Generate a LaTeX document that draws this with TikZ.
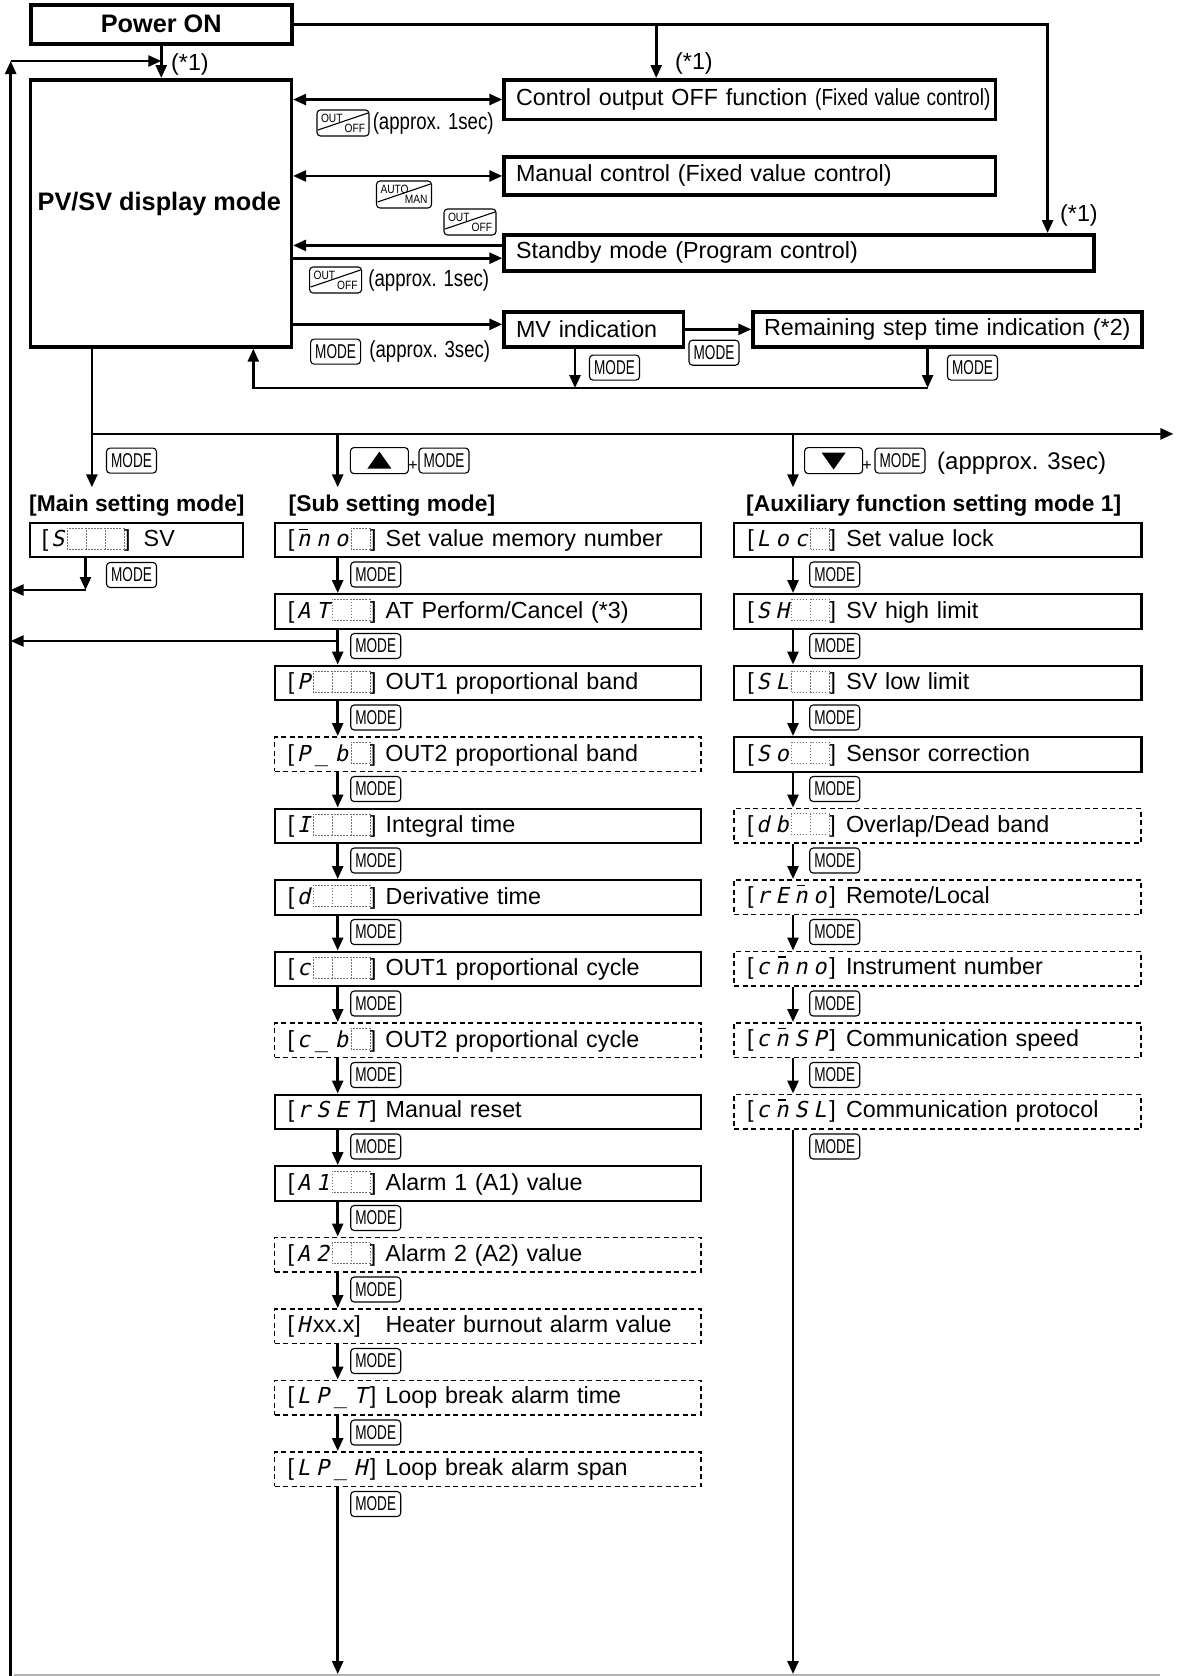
\documentclass[tikz,border=0pt]{standalone}
\usepackage{fontspec}
\usepackage{graphicx}
\setmainfont{Liberation Sans}
\newfontfamily\segfont{DejaVu Sans Mono}[FakeSlant=0.22]
\usetikzlibrary{arrows.meta,calc}
\newcommand\tx{\fontsize{23.3}{28}\selectfont}
\newcommand\bft{\fontsize{25.3}{30}\selectfont\bfseries}
\newcommand\hdf{\fontsize{22.8}{28}\selectfont\bfseries}
\newcommand\MODE{\scalebox{0.68}[1]{\fontsize{20}{20}\selectfont MODE}}
\newcommand\kf{\fontsize{12}{11}\selectfont}
\newcommand\twokey[3]{\parbox{#1}{\kf\makebox[#1][l]{\scalebox{0.85}[1]{#2}}\\[-1pt]\makebox[#1][r]{\scalebox{0.85}[1]{#3}}}}
\newcommand\sg[1]{\makebox[19pt]{\segfont\fontsize{22}{22}\selectfont #1}}
\newcommand\nbar{\ooalign{n\cr\hidewidth\rule[0.78em]{0.4em}{0.06em}\hidewidth\cr}}
\newcommand\bl{\raisebox{-2pt}{{\color{black!55}\setlength{\unitlength}{1pt}\linethickness{0.8pt}\begin{picture}(19,21)\put(0,0){\dashbox{1.5}(19,21){}}\end{picture}}}}
\newcommand\srow[4]{\node[#2,text width=400.4pt] (s#1) at (273.6,{521.5+71.5*#1}) {\mbox{\makebox[98pt][l]{#3}#4}};}
\newcommand\arow[4]{\node[#2,text width=381.2pt] (a#1) at (733.1,{521.5+71.5*#1}) {\mbox{\makebox[99pt][l]{#3}#4}};}
\begin{document}
\begin{tikzpicture}[x=1pt,y=-1pt,line join=miter,font=\tx,
 arr/.style={line width=2.6pt,-{Triangle[length=13pt,width=11pt]}},
 darr/.style={line width=2.6pt,{Triangle[length=13pt,width=11pt]}-{Triangle[length=13pt,width=11pt]}},
 tbox/.style={draw,line width=3.5pt,inner xsep=12pt,inner ysep=0pt,anchor=north west,align=left},
 sbox/.style={draw,line width=2.3pt,inner xsep=13pt,inner ysep=0pt,anchor=north west,align=left,minimum height=34.5pt},
 dbox/.style={sbox,line width=1.8pt,dash pattern=on 5pt off 3.5pt},
 keybox/.style={draw,line width=1.1pt,rounded corners=3.5pt,inner sep=0pt},
 modekey/.style={keybox,minimum width=50pt,minimum height=25pt},
 slkey/.style={keybox,minimum height=26pt,path picture={\draw[line width=1.1pt,sharp corners] ($(path picture bounding box.south west)+(1,-6)$) -- ($(path picture bounding box.north east)+(-1,3)$);}},
 upkey/.style={keybox,minimum width=58pt,minimum height=26pt,path picture={\fill[sharp corners] ($(path picture bounding box.center)+(-12,8)$) -- ($(path picture bounding box.center)+(12,8)$) -- ($(path picture bounding box.center)+(0,-9)$) -- cycle;}},
 downkey/.style={keybox,minimum width=58pt,minimum height=26pt,path picture={\fill[sharp corners] ($(path picture bounding box.center)+(-12,-8)$) -- ($(path picture bounding box.center)+(12,-8)$) -- ($(path picture bounding box.center)+(0,9)$) -- cycle;}},
 hdr/.style={anchor=west,font=\hdf,inner sep=0pt},
 lbl/.style={anchor=west,inner sep=0pt}]
\useasboundingbox (0,0) rectangle (1182,1676);

% top boxes
\node[draw,line width=3.5pt,anchor=north west,minimum width=261pt,minimum height=39pt,font=\bft,inner sep=0pt] (pwr) at (29,3) {Power ON};
\node[draw,line width=3.5pt,anchor=north west,minimum width=260.7pt,minimum height=267.2pt,inner sep=0pt] (pv) at (28.9,78) {};
\node[font=\bft,inner sep=0pt] (pvt) at (159.3,204) {PV/SV display mode};
\node[tbox,text width=467.6pt,minimum height=39.6pt] (ctl) at (502.3,78) {\mbox{Control output OFF function \scalebox{0.82}[1]{(Fixed value control)}}};
\node[tbox,text width=467.6pt,minimum height=38.4pt] (man) at (502.3,155) {\mbox{Manual control (Fixed value control)}};
\node[tbox,text width=565.9pt,minimum height=36.3pt] (stb) at (502.3,233) {\mbox{Standby mode (Program control)}};
\node[tbox,text width=155.5pt,minimum height=35.2pt] (mv) at (502.3,310) {\mbox{MV indication}};
\node[tbox,inner xsep=11pt,text width=367pt,minimum height=35.2pt] (rem) at (751.3,310) {\mbox{Remaining step time indication (*2)}};

% labels (*1)
\node[lbl] (n1) at (171,64) {(*1)};
\node[lbl] (n2) at (675,63) {(*1)};
\node[lbl] (n3) at (1060,215) {(*1)};

% keys top
\node[slkey,minimum width=52pt] (k1) at (343,123) {\twokey{44pt}{OUT}{OFF}};
\node[lbl] (k1t) at ($(k1.east)+(3,0)$) {\scalebox{0.8}[1]{(approx. 1sec)}};
\node[slkey,minimum width=55pt,minimum height=27pt] (k2) at (404,194.5) {\twokey{47pt}{AUTO}{MAN}};
\node[slkey,minimum width=52pt] (k3) at (470,222) {\twokey{44pt}{OUT}{OFF}};
\node[slkey,minimum width=52pt] (k4) at (335.6,280) {\twokey{44pt}{OUT}{OFF}};
\node[lbl] (k4t) at ($(k4.east)+(6,0)$) {\scalebox{0.8}[1]{(approx. 1sec)}};
\node[modekey] (k5) at (335.6,351.6) {\MODE};
\node[lbl] (k5t) at ($(k5.east)+(8,0)$) {\scalebox{0.8}[1]{(approx. 3sec)}};
\node[modekey] (k6) at (714,352.7) {\MODE};
\node[modekey] (k7) at (614.5,367.6) {\MODE};
\node[modekey] (k8) at (972.5,367.6) {\MODE};
\node[modekey] (k9) at (131.5,460.6) {\MODE};
\node[upkey] (k10) at (379.4,460.6) {};
\node[inner sep=0pt,font=\fontsize{16}{16}\selectfont] (pl1) at (413,466) {+};
\node[modekey] (k11) at (444,460.6) {\MODE};
\node[downkey] (k12) at (833.6,460.6) {};
\node[inner sep=0pt,font=\fontsize{16}{16}\selectfont] (pl2) at (867,466) {+};
\node[modekey] (k13) at (900,460.6) {\MODE};
\node[lbl,font=\fontsize{24}{28}\selectfont] (k13t) at (937,463) {(appprox. 3sec)};

% headers
\node[hdr] (hm) at (29,505.5) {[Main setting mode]};
\node[hdr] (hs) at (288.5,505.5) {[Sub setting mode]};
\node[hdr] (ha) at (746,505.5) {[Auxiliary function setting mode 1]};

% main
\node[sbox,inner xsep=11.7pt,text width=189.2pt] (m0) at (28.9,521.5) {\mbox{\makebox[102pt][l]{[\sg{S}\bl\bl\bl]}SV}};
\node[modekey] (mk0) at (131.5,575) {\MODE};

% sub rows
\srow{0}{sbox}{[\sg{\nbar}\sg{n}\sg{o}\bl]}{Set value memory number}
\srow{1}{sbox}{[\sg{A}\sg{T}\bl\bl]}{AT Perform/Cancel (*3)}
\srow{2}{sbox}{[\sg{P}\bl\bl\bl]}{OUT1 proportional band}
\srow{3}{dbox}{[\sg{P}\sg{\_}\sg{b}\bl]}{OUT2 proportional band}
\srow{4}{sbox}{[\sg{I}\bl\bl\bl]}{Integral time}
\srow{5}{sbox}{[\sg{d}\bl\bl\bl]}{Derivative time}
\srow{6}{sbox}{[\sg{c}\bl\bl\bl]}{OUT1 proportional cycle}
\srow{7}{dbox}{[\sg{c}\sg{\_}\sg{b}\bl]}{OUT2 proportional cycle}
\srow{8}{sbox}{[\sg{r}\sg{S}\sg{E}\sg{T}]}{Manual reset}
\srow{9}{sbox}{[\sg{A}\sg{1}\bl\bl]}{Alarm 1 (A1) value}
\srow{10}{dbox}{[\sg{A}\sg{2}\bl\bl]}{Alarm 2 (A2) value}
\srow{11}{dbox}{[\sg{H}xx.x]}{Heater burnout alarm value}
\srow{12}{dbox}{[\sg{L}\sg{P}\sg{\_}\sg{T}]}{Loop break alarm time}
\srow{13}{dbox}{[\sg{L}\sg{P}\sg{\_}\sg{H}]}{Loop break alarm span}

% aux rows
\arow{0}{sbox}{[\sg{L}\sg{o}\sg{c}\bl]}{Set value lock}
\arow{1}{sbox}{[\sg{S}\sg{H}\bl\bl]}{SV high limit}
\arow{2}{sbox}{[\sg{S}\sg{L}\bl\bl]}{SV low limit}
\arow{3}{sbox}{[\sg{S}\sg{o}\bl\bl]}{Sensor correction}
\arow{4}{dbox}{[\sg{d}\sg{b}\bl\bl]}{Overlap/Dead band}
\arow{5}{dbox}{[\sg{r}\sg{E}\sg{\nbar}\sg{o}]}{Remote/Local}
\arow{6}{dbox}{[\sg{c}\sg{\nbar}\sg{n}\sg{o}]}{Instrument number}
\arow{7}{dbox}{[\sg{c}\sg{\nbar}\sg{S}\sg{P}]}{Communication speed}
\arow{8}{dbox}{[\sg{c}\sg{\nbar}\sg{S}\sg{L}]}{Communication protocol}

% coordinates
\coordinate (botL) at (10.7,1676);
\coordinate (topL) at (10.7,61);
\coordinate (c1) at ($(ctl.north west)+(153.9,0)$);
\coordinate (c2) at ($(stb.north east)+(-48.1,0)$);
\coordinate (sb1) at ($(stb.west)+(0,-7.5)$);
\coordinate (sb2) at ($(stb.west)+(0,5.3)$);
\coordinate (mvin) at ($(mv.west)+(0,-5)$);
\coordinate (mvx) at (575,388);
\coordinate (remx) at (927.6,388);
\coordinate (pvx) at (253.3,388);
\coordinate (busL) at (91.9,433.9);
\coordinate (busR) at (1173.4,433.9);
\coordinate (dm) at (91.9,487.3);
\coordinate (ds) at (337.7,487.3);
\coordinate (da) at (793,487.3);
\coordinate (mret) at (85.5,590);
\coordinate (atr) at (337.7,641);
\coordinate (sx) at (337.7,0);
\coordinate (ax) at (793,0);
\coordinate (sbot) at (337.7,1674);
\coordinate (abot) at (793,1674);
\coordinate (gl) at (14,1675);
\coordinate (gr) at (1160,1675);

% connectors top
\draw[arr] (pwr.south) -- (pwr.south |- pv.north);
\draw[arr] (botL) -- (topL);
\draw[arr] (topL) -- (topL -| pwr.south);
\draw[arr] (pwr.east) -| (c2);
\draw[arr] (c1 |- pwr.east) -- (c1);
\draw[darr] (ctl.west -| pv.east) -- (ctl.west);
\draw[darr] (man.west -| pv.east) -- (man.west);
\draw[arr] (sb1) -- (sb1 -| pv.east);
\draw[arr] (sb2 -| pv.east) -- (sb2);
\draw[arr] (mvin -| pv.east) -- (mvin);
\draw[arr] (mv.east) -- (rem.west);
\draw[arr] (mv.south -| mvx) -- (mvx);
\draw[arr] (rem.south -| remx) -- (remx);
\draw[arr] (remx) -- (pvx) -- (pv.south -| pvx);

% bus
\draw[arr] (pv.south -| dm) -- (dm);
\draw[arr] (busL) -- (busR);
\draw[arr] (ds |- busL) -- (ds);
\draw[arr] (da |- busL) -- (da);

% main return
\draw[arr] (m0.south -| mret) -- (mret);
\draw[arr] (mret) -- (mret -| botL);
\draw[arr] (atr) -- (atr -| botL);

% sub chain
\foreach \i in {0,...,12}{\pgfmathtruncatemacro\j{\i+1}
  \draw[arr] (s\i.south -| sx) -- (s\j.north -| sx);
  \node[modekey] (sk\i) at (375.7,{574.5+71.5*\i}) {\MODE};}
\node[modekey] (sk13) at (375.7,1504) {\MODE};
\draw[arr] (s13.south -| sx) -- (sbot);

% aux chain
\foreach \i in {0,...,7}{\pgfmathtruncatemacro\j{\i+1}
  \draw[arr] (a\i.south -| ax) -- (a\j.north -| ax);
  \node[modekey] (ak\i) at (834.7,{574.5+71.5*\i}) {\MODE};}
\node[modekey] (ak8) at (834.7,1146.5) {\MODE};
\draw[arr] (a8.south -| ax) -- (abot);

\draw[black!30,line width=1.5pt] (gl) -- (gr);
\end{tikzpicture}
\end{document}
